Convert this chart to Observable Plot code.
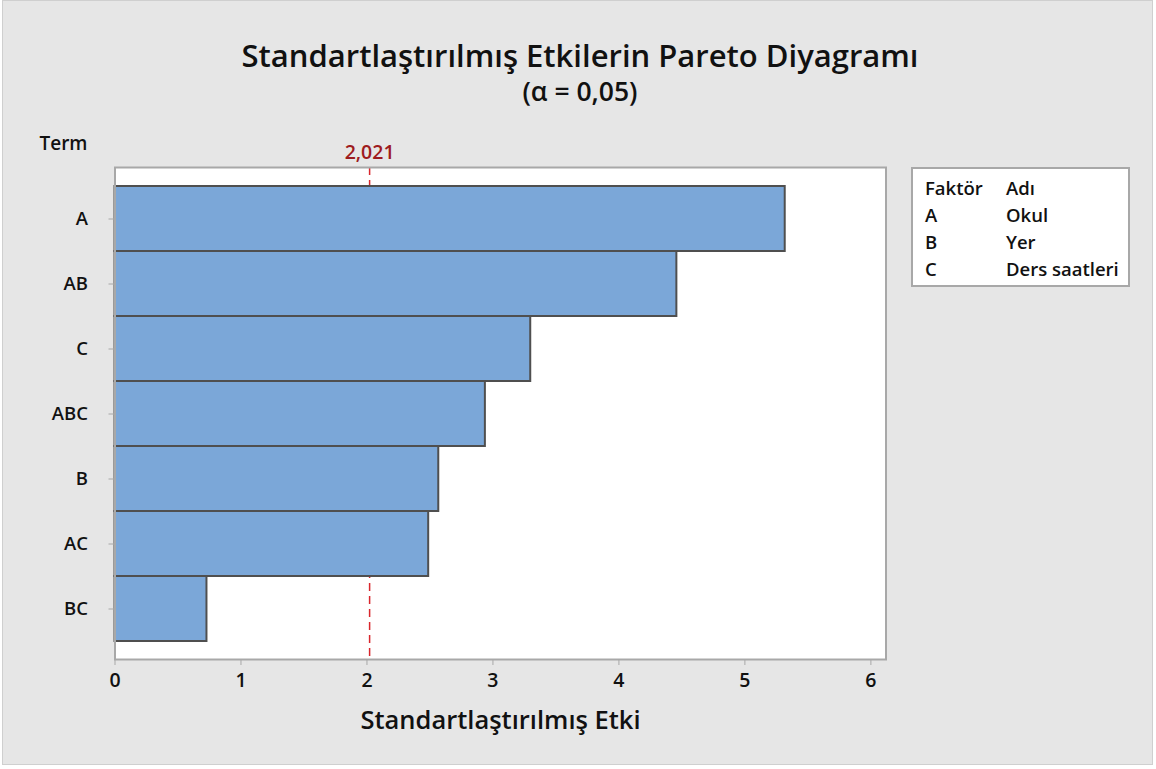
<!DOCTYPE html>
<html><head><meta charset="utf-8">
<script src="https://cdn.jsdelivr.net/npm/d3@7"></script>
<script src="https://cdn.jsdelivr.net/npm/@observablehq/plot@0.6"></script>
<style>
body{margin:0;background:#fff;font-family:"Open Sans",sans-serif;}
#wrap{position:relative;width:1156px;height:769px;overflow:hidden;}
#panel{position:absolute;left:2px;top:0;width:1151px;height:765px;background:#e6e6e6;border:1px solid #cfcfcf;box-sizing:border-box;}
#title{position:absolute;left:0;width:1160px;top:35px;line-height:40px;text-align:center;font-size:31px;font-weight:600;color:#111;}
#subtitle{position:absolute;left:0;width:1160px;top:76px;line-height:30px;text-align:center;font-size:26.5px;font-weight:600;color:#111;}
#chart{position:absolute;left:0;top:0;}
#legend{position:absolute;left:911px;top:167px;width:219px;height:120px;box-sizing:border-box;border:2px solid #a8a8a8;background:#fff;padding-top:5px;}
#legend .row{position:relative;height:27px;line-height:27px;font-size:18.5px;font-weight:600;color:#111;}
#legend .c1{position:absolute;left:12px;}
#legend .c2{position:absolute;left:93px;}
</style>
</head><body>
<div id="wrap">
  <div id="panel"></div>
  <div id="chart"></div>
  <div id="title"></div>
  <div id="subtitle"></div>
  <div id="legend"></div>
</div>
<script>
const titleText = "Standartlaştırılmış Etkilerin Pareto Diyagramı";
const subtitleText = "(α = 0,05)";
const terms = ["A", "AB", "C", "ABC", "B", "AC", "BC"];
const effects = [5.32, 4.46, 3.30, 2.94, 2.57, 2.49, 0.73];
const xTicks = [0, 1, 2, 3, 4, 5, 6];
const critical = 2.021;
const criticalLabel = "2,021";
const xLabel = "Standartlaştırılmış Etki";
const yLabel = "Term";
const legendHeader = ["Faktör", "Adı"];
const legendFactors = ["A", "B", "C"];
const legendNames = ["Okul", "Yer", "Ders saatleri"];

const data = terms.map((t, i) => ({term: t, effect: effects[i]}));

document.getElementById("title").textContent = titleText;
document.getElementById("subtitle").textContent = subtitleText;

const legend = document.getElementById("legend");
const rows = [legendHeader].concat(legendFactors.map((f, i) => [f, legendNames[i]]));
rows.forEach(r => {
  const div = document.createElement("div");
  div.className = "row";
  const a = document.createElement("span"); a.className = "c1"; a.textContent = r[0];
  const b = document.createElement("span"); b.className = "c2"; b.textContent = r[1];
  div.appendChild(a); div.appendChild(b);
  legend.appendChild(div);
});

const chart = Plot.plot({
  width: 1156,
  height: 769,
  marginLeft: 114.5,
  marginRight: 270.5,
  marginTop: 167,
  marginBottom: 110,
  style: {background: "transparent", fontFamily: "Open Sans, sans-serif", color: "#111", overflow: "visible"},
  x: {domain: [0, 6.12]},
  y: {domain: terms, padding: 0, insetTop: 17, insetBottom: 16},
  marks: [
    Plot.frame({fill: "white", stroke: "none"}),
    Plot.ruleX([critical], {x: d => d, stroke: "#d9262c", strokeWidth: 1.5, strokeDasharray: "8,5"}),
    Plot.barX(data, {x: "effect", y: "term", fill: "#7ba7d8", stroke: "#4f4f4f", strokeWidth: 2}),
    Plot.frame({stroke: "#a8a8a8", strokeWidth: 2}),
    Plot.axisX({ticks: xTicks, tickSize: 6, tickPadding: 8, fontSize: 19.5, fontWeight: 600, label: null, stroke: "#a8a8a8", fill: "#111", tickFormat: d => String(d)}),
    Plot.axisY({tickSize: 6, tickPadding: 21, fontSize: 18.5, fontWeight: 600, label: null, stroke: "#a8a8a8", fill: "#111"}),
    Plot.text([criticalLabel], {text: d => d, x: () => critical, frameAnchor: "top", lineAnchor: "middle", dy: -15, fill: "#9e1b20", fontSize: 19.5, fontWeight: 600}),
    Plot.text([xLabel], {text: d => d, frameAnchor: "bottom", lineAnchor: "middle", dy: 61, fontSize: 25.5, fontWeight: 600, fill: "#111"}),
    Plot.text([yLabel], {text: d => d, frameAnchor: "top-left", lineAnchor: "middle", dx: -27.5, dy: -24, textAnchor: "end", fontSize: 19, fontWeight: 600, fill: "#111"})
  ]
});
document.getElementById("chart").appendChild(chart);
</script>
</body></html>
